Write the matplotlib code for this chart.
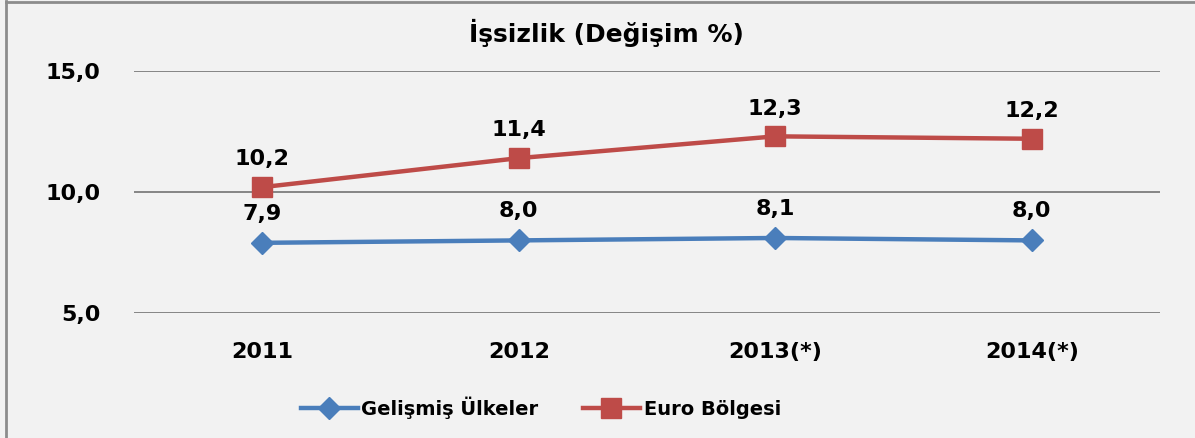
import matplotlib.pyplot as plt
from matplotlib.lines import Line2D

years = ["2011", "2012", "2013(*)", "2014(*)"]
gelismis = [7.9, 8.0, 8.1, 8.0]
euro = [10.2, 11.4, 12.3, 12.2]
yticks = [5.0, 10.0, 15.0]

W, H = 1195, 438
bg = "#F2F2F2"
blue = "#4A7EBB"
red = "#BE4B48"

plt.rcParams['font.family'] = ['DejaVu Sans']
plt.rcParams['font.weight'] = 'bold'

fig = plt.figure(figsize=(W/100, H/100), dpi=100, facecolor=bg)
ax = fig.add_axes([134/W, 1-313/H, (1160-134)/W, (313-71)/H], facecolor=bg)

x = list(range(len(years)))
ax.plot(x, gelismis, color=blue, lw=3.2, marker="D", markersize=11, label="Gelişmiş Ülkeler", zorder=3)
ax.plot(x, euro, color=red, lw=3.2, marker="s", markersize=14, label="Euro Bölgesi", zorder=3)

for xi, v in zip(x, gelismis):
    ax.annotate(f"{v:.1f}".replace(".", ","), (xi, v), xytext=(0, 21), textcoords="offset points",
                ha="center", va="center", fontsize=16, fontweight="bold")
for xi, v in zip(x, euro):
    ax.annotate(f"{v:.1f}".replace(".", ","), (xi, v), xytext=(0, 20), textcoords="offset points",
                ha="center", va="center", fontsize=16, fontweight="bold")

ax.set_xlim(-0.5, 3.5)
ax.set_ylim(5, 15)
ax.set_yticks(yticks)
ax.set_yticklabels([f"{t:.1f}".replace(".", ",") for t in yticks], fontsize=16, fontweight="bold")
ax.set_xticks(x)
ax.set_xticklabels(years, fontsize=16, fontweight="bold")
ax.tick_params(axis="both", length=0)
ax.tick_params(axis="y", pad=24)
ax.tick_params(axis="x", pad=21)
ax.grid(axis="y", color="#868686", lw=1.4)
ax.set_axisbelow(True)
for s in ax.spines.values():
    s.set_visible(False)

fig.text(606/W, 1-33/H, "İşsizlik (Değişim %)", ha="center", va="center", fontsize=18, fontweight="bold")

fig.legend(loc="center", bbox_to_anchor=(541/W, 1-408/H), ncol=2, frameon=False,
           prop={"size": 14, "weight": "bold"}, handlelength=2.9, handletextpad=0.2, columnspacing=2.3)

fig.add_artist(Line2D([6/W, 6/W], [0, 1-1/H], color="#8C8C8C", lw=2, transform=fig.transFigure))
fig.add_artist(Line2D([6/W, 1], [1-1.5/H, 1-1.5/H], color="#8C8C8C", lw=2, transform=fig.transFigure))

fig.savefig("out.png", dpi=100, facecolor=bg)
